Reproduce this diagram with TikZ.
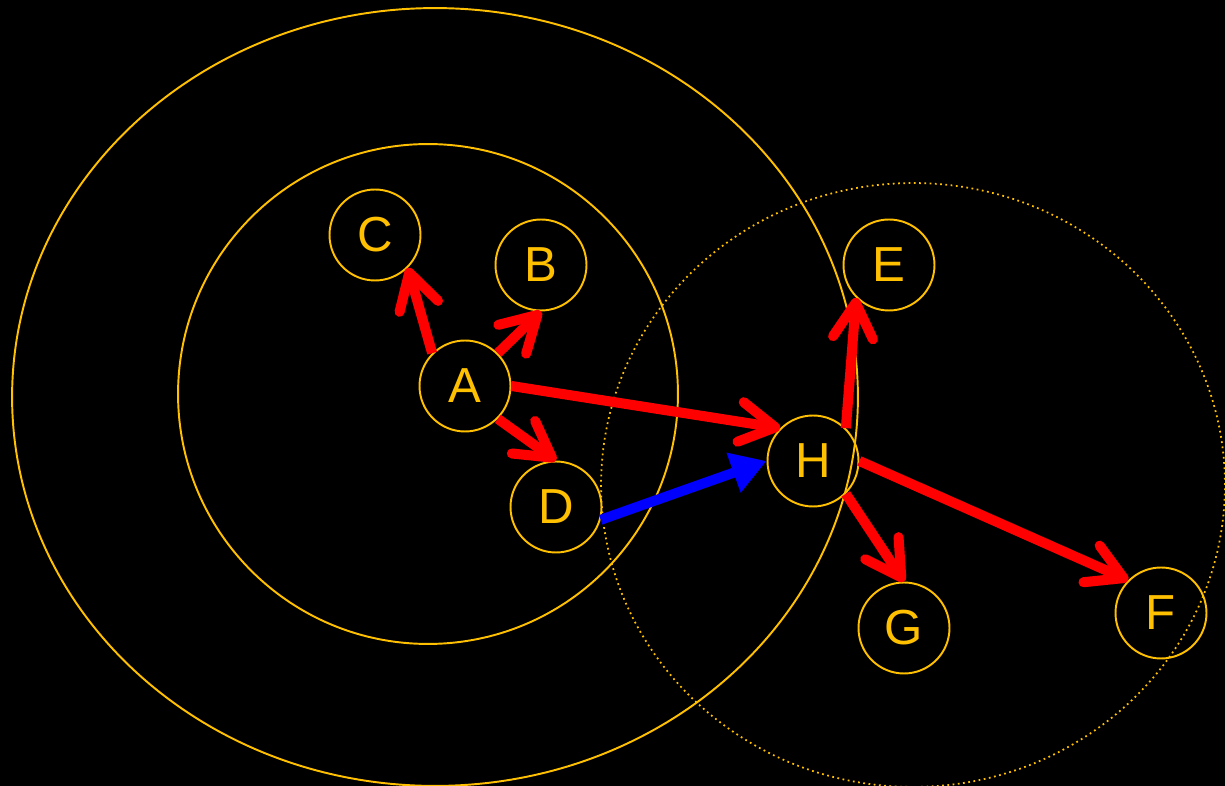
\documentclass[tikz,border=0pt]{standalone}
\usepackage{fontspec}
\setmainfont{Liberation Sans}
\usetikzlibrary{arrows.meta}
\definecolor{gold}{HTML}{FFC000}
\begin{document}
\begin{tikzpicture}[
  x=0.02cm, y=-0.02cm,
  vertex/.style={circle, draw=gold, line width=1.1pt, minimum size=1.82cm,
    inner sep=0pt, text=gold, font=\fontsize{28}{32}\selectfont},
  ring/.style={draw=gold, line width=1.1pt},
  reach/.style={draw=gold, line width=1pt, dotted},
  push/.style={red, line width=5.7pt,
    -{Straight Barb[length=0.7cm, width=0.8cm, round]}},
  relay/.style={blue, line width=5.7pt, -{Triangle[length=0.7cm, width=0.8cm]}},
]

% ── Canvas (unit = 1 px of the 1225 x 786 frame) ──────────────────────────────
\useasboundingbox (0,0) rectangle (1225,786);
\fill[black] (0,0) rectangle (1225,786);

% ── Ranges ────────────────────────────────────────────────────────────────────
\draw[ring]  (435,397) ellipse[x radius=8.46cm, y radius=7.78cm];  % outer range
\draw[ring]  (428,394) circle[radius=5cm];                         % inner range
\draw[reach] (913,485) ellipse[x radius=6.24cm, y radius=6.04cm];  % range of H

% ── Nodes ─────────────────────────────────────────────────────────────────────
\node[vertex] (A) at (465,386)  {A};
\node[vertex] (B) at (541,265)  {B};
\node[vertex] (C) at (375,235)  {C};
\node[vertex] (D) at (556,507)  {D};
\node[vertex] (E) at (889,265)  {E};
\node[vertex] (H) at (813,461)  {H};
\node[vertex] (G) at (904,628)  {G};
\node[vertex] (F) at (1161,613) {F};

% ── Links from A ──────────────────────────────────────────────────────────────
\draw[push] (A.north west) -- (C.south east);
\draw[push] (A.north east) -- (B.south);
\draw[push] (A.south east) -- (D.north);
\draw[push] (A.east)       -- (H.north west);

% ── Relay D -> H ──────────────────────────────────────────────────────────────
\draw[relay] (D.-16) -- (H.west);

% ── Links from H ──────────────────────────────────────────────────────────────
\draw[push] (H.north east) -- (E.south west);
\draw[push] (H.east)       -- (F.north west);
\draw[push] (H.south east) -- (G.north);

\end{tikzpicture}
\end{document}
